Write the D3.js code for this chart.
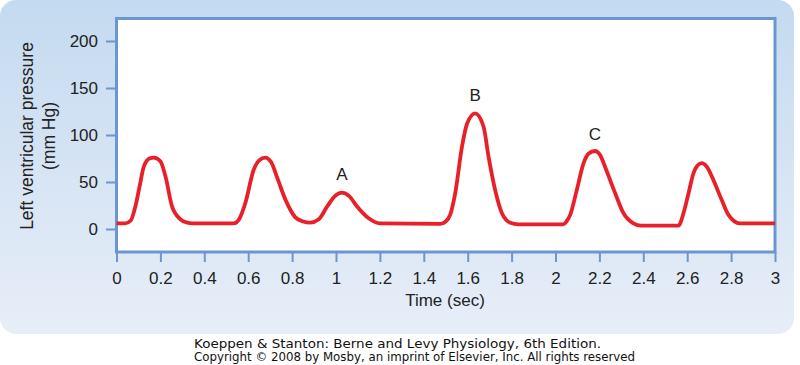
<!DOCTYPE html>
<html>
<head>
<meta charset="utf-8">
<script src="https://cdn.jsdelivr.net/npm/d3@7"></script>
<style>
  body { margin: 0; background: #fff; }
  svg { display: block; }
  .tick text { font-family: "Liberation Sans", Arial, sans-serif; font-size: 17px; fill: #222; }
</style>
</head>
<body>
<div id="chart"></div>
<script>
// pressure trace: time (sec) and pressure (mm Hg)
var times = [0, 0.04, 0.065, 0.086, 0.105, 0.124, 0.15, 0.17, 0.2, 0.223, 0.253, 0.29, 0.32, 0.345,
  0.534, 0.56, 0.587, 0.625, 0.65, 0.678, 0.705, 0.73, 0.77, 0.815, 0.85, 0.883, 0.92, 0.96, 0.995,
  1.027, 1.06, 1.096, 1.149, 1.2, 1.475, 1.5, 1.52, 1.543, 1.574, 1.597, 1.634, 1.672, 1.695, 1.725,
  1.756, 1.794, 1.83, 2.036, 2.05, 2.067, 2.097, 2.128, 2.15, 2.18, 2.205, 2.226, 2.272, 2.31, 2.355,
  2.39, 2.56, 2.583, 2.606, 2.628, 2.645, 2.666, 2.69, 2.712, 2.757, 2.788, 2.84, 3];
var pressure = [6, 6, 9, 24, 45, 66, 75, 76, 72, 56, 24, 10.6, 7, 6,
  6, 11, 27.6, 63, 73, 76, 71, 56, 31, 12.4, 8, 6.7, 10, 24, 35,
  38.6, 35, 24, 11.4, 6, 5.5, 8, 15, 38, 87.6, 112, 123, 109, 77, 41.5,
  16.7, 6.7, 5, 5, 8, 15, 41.5, 70, 80, 83, 78, 66, 38, 16.7, 6,
  3.5, 3.5, 16.7, 38, 59, 67, 70, 66, 56, 31, 15, 6, 6];

var yTicks = [0, 50, 100, 150, 200];
var xTicks = [0, 0.2, 0.4, 0.6, 0.8, 1, 1.2, 1.4, 1.6, 1.8, 2, 2.2, 2.4, 2.6, 2.8, 3];
var xTickLabels = ["0", "0.2", "0.4", "0.6", "0.8", "1", "1.2", "1.4", "1.6", "1.8", "2", "2.2", "2.4", "2.6", "2.8", "3"];

var noteLabels = ["A", "B", "C"];
var noteTimes = [1.027, 1.634, 2.18];
var notePressure = [58.5, 142, 101];

var svgWidth = 800;
var svgHeight = 365;

var svg = d3.select("#chart")
  .append("svg")
  .attr("width", svgWidth)
  .attr("height", svgHeight);

// blue panel behind the chart
var grad = svg.append("defs").append("linearGradient")
  .attr("id", "bg")
  .attr("x1", 0).attr("y1", 0).attr("x2", 0).attr("y2", 1);
grad.append("stop").attr("offset", "0%").attr("stop-color", "#c4daf0");
grad.append("stop").attr("offset", "100%").attr("stop-color", "#e7eef8");

svg.append("rect")
  .attr("x", 0)
  .attr("y", 0)
  .attr("width", 794)
  .attr("height", 334)
  .attr("rx", 16)
  .attr("fill", "url(#bg)");

var x = d3.scaleLinear().domain([0, 3]).range([116.5, 775]);
var y = d3.scaleLinear().domain([0, 200]).range([229, 41]);

// plot area
svg.append("rect")
  .attr("x", 116.5)
  .attr("y", 18.5)
  .attr("width", 658.5)
  .attr("height", 233.5)
  .attr("fill", "#fff")
  .attr("stroke", "#6b97d1")
  .attr("stroke-width", 3);

// axes
var yAxis = d3.axisLeft(y).tickValues(yTicks).tickSize(10).tickPadding(8);
var xAxis = d3.axisBottom(x).tickValues(xTicks).tickSize(10).tickPadding(10)
  .tickFormat(function(d, i) { return xTickLabels[i]; });

var gy = svg.append("g").attr("transform", "translate(116,0)").call(yAxis);
var gx = svg.append("g").attr("transform", "translate(0,252)").call(xAxis);
[gx, gy].forEach(function(g) {
  g.select(".domain").remove();
  g.selectAll(".tick line").attr("stroke", "#6b97d1").attr("stroke-width", 2);
});

// axis titles
svg.append("text")
  .attr("x", 445)
  .attr("y", 306)
  .attr("text-anchor", "middle")
  .attr("font-family", "Liberation Sans, Arial, sans-serif")
  .attr("font-size", 17)
  .attr("fill", "#222")
  .text("Time (sec)");

var ylab = svg.append("text")
  .attr("transform", "translate(33,136) rotate(-90)")
  .attr("text-anchor", "middle")
  .attr("font-family", "Liberation Sans, Arial, sans-serif")
  .attr("font-size", 17.5)
  .attr("fill", "#222");
ylab.append("tspan").attr("x", 0).attr("y", 0).text("Left ventricular pressure");
ylab.append("tspan").attr("x", 0).attr("y", 22).text("(mm Hg)");

// pressure line
var points = times.map(function(t, i) { return [t, pressure[i]]; });
var line = d3.line()
  .x(function(d) { return x(d[0]); })
  .y(function(d) { return y(d[1]); })
  .curve(d3.curveMonotoneX);

svg.append("path")
  .datum(points)
  .attr("d", line)
  .attr("fill", "none")
  .attr("stroke", "#e8202a")
  .attr("stroke-width", 3.8)
  .attr("stroke-linejoin", "round");

// A, B, C labels
svg.selectAll(".note")
  .data(noteLabels)
  .enter()
  .append("text")
  .attr("class", "note")
  .attr("x", function(d, i) { return x(noteTimes[i]); })
  .attr("y", function(d, i) { return y(notePressure[i]); })
  .attr("dy", "0.35em")
  .attr("text-anchor", "middle")
  .attr("font-family", "Liberation Sans, Arial, sans-serif")
  .attr("font-size", 17)
  .attr("fill", "#222")
  .text(function(d) { return d; });

// credit lines
var credit = svg.append("text")
  .attr("font-family", "DejaVu Sans, Verdana, sans-serif")
  .attr("font-size", 12)
  .attr("fill", "#111");
credit.append("tspan").attr("x", 194).attr("y", 348)
  .attr("textLength", 407).attr("lengthAdjust", "spacingAndGlyphs")
  .text("Koeppen & Stanton: Berne and Levy Physiology, 6th Edition.");
credit.append("tspan").attr("x", 194).attr("y", 361)
  .attr("textLength", 441).attr("lengthAdjust", "spacingAndGlyphs")
  .text("Copyright \u00a9 2008 by Mosby, an imprint of Elsevier, Inc. All rights reserved");
</script>
</body>
</html>
